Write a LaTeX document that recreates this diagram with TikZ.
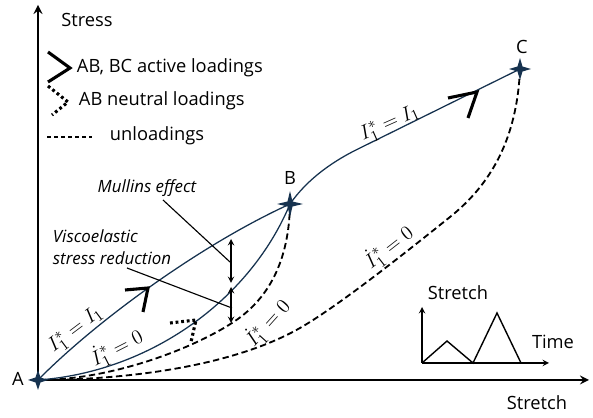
\documentclass[tikz,border=0pt]{standalone}
\usepackage{amsmath}
\usepackage{fontspec}
\setmainfont{Open Sans}
\usepackage{xcolor}
\usepackage{tikz}

\definecolor{curveblue}{RGB}{22,50,79}

\tikzset{
  axis/.style={line width=1.8pt,-stealth},
  loadcurve/.style={line width=0.9pt,draw=curveblue},
  unloadcurve/.style={line width=1.3pt,dash pattern=on 4.5pt off 2.5pt},
  chevron/.style={line width=2.2pt},
  neutralchev/.style={line width=2.2pt,dash pattern=on 2pt off 2pt},
  callout/.style={line width=0.8pt},
  txt/.style={font=\fontsize{13}{15}\selectfont},
  itxt/.style={font=\fontsize{12}{15.5}\selectfont\itshape},
  mathlbl/.style={font=\fontsize{15}{17}\selectfont,inner sep=1pt},
  starmark/.pic={\fill[curveblue] (0,-#1) -- (2.5,-2.5) -- (#1,0) -- (2.5,2.5) -- (0,#1)
      -- (-2.5,2.5) -- (-#1,0) -- (-2.5,-2.5) -- cycle;},
}

\begin{document}
\begin{tikzpicture}[x=0.025cm,y=-0.025cm]
        \useasboundingbox (0,0) rectangle (593,418);

        \coordinate (A) at (38,380);
        \coordinate (B) at (290,204);
        \coordinate (C) at (520,69);

        % axes
        \draw[axis] (38,382) -- (38,5) coordinate (ytip);
        \draw[axis] (37,380) -- (589,380) coordinate (xtip);
        \node[txt] (ylbl) at (87,20) {Stress};
        \node[txt] (xlbl) at (537,403) {Stretch};

        % legend
        \draw[chevron] (70,68) coordinate (lgA) ++(-22,-16) -- (lgA) -- ++(-22,14);
        \node[txt,anchor=west] (lgAtxt) at (72,68) {AB, BC active loadings};
        \draw[neutralchev] (68,102) coordinate (lgN) ++(-20,-16) -- (lgN) -- ++(-16,13);
        \node[txt,anchor=west] (lgNtxt) at (74,101) {AB neutral loadings};
        \draw[line width=1pt,dash pattern=on 3pt off 2pt] (47,137) coordinate (lgU) -- (92,137);
        \node[txt,anchor=west] (lgUtxt) at (105,136) {unloadings};

        % unloadings
        \coordinate (u1) at (450,217);
        \coordinate (u2) at (300,328);
        \coordinate (u3) at (232,323);
        \draw[unloadcurve] (C) .. controls (517,140) and (490,185) .. (u1)
            .. controls (410,249) and (340,305) .. (u2)
            .. controls (230,368) and (120,380) .. (A);
        \draw[unloadcurve] (B) .. controls (289,262) and (268,300) .. (u3)
            .. controls (190,350) and (110,380) .. (A);

        % loadings
        \coordinate (b1) at (360,148);
        \draw[loadcurve] (A) .. controls (95,322) and (200,245) .. (B);
        \draw[loadcurve] (A) .. controls (150,372) and (250,300) .. (B);
        \draw[loadcurve] (B) .. controls (308,178) and (335,160) .. (b1) -- (C);

        % direction marks
        \draw[chevron] (148,288) coordinate (chAB) ++(-23,2) -- (chAB) -- ++(-5,24);
        \draw[chevron] (477,92) coordinate (chBC) ++(-29,6) -- (chBC) -- ++(-9,26);
        \draw[neutralchev] (196,320) coordinate (chN) ++(-26,3) -- (chN) -- ++(-5,22);

        % points
        \pic at (A) {starmark=10};
        \pic at (B) {starmark=13};
        \pic at (C) {starmark=11};
        \node[txt] (lblA) at (18,379) {A};
        \node[txt] (lblB) at (290,178) {B};
        \node[txt] (lblC) at (522,47) {C};

        % curve labels
        \node[mathlbl,rotate=37] (eqAB) at (76,330) {$I_1^*=I_1$};
        \node[mathlbl,rotate=27] (dotAB) at (117,348) {$\dot{I}_1^*=0$};
        \node[mathlbl,rotate=48] (dotB) at (268,323) {$\dot{I}_1^*=0$};
        \node[mathlbl,rotate=38] (dotC) at (389,247) {$\dot{I}_1^*=0$};
        \node[mathlbl,rotate=24] (eqBC) at (390,124) {$I_1^*=I_1$};

        % stress drops
        \coordinate (m1) at (231,239);
        \coordinate (m2) at (231,285);
        \coordinate (m3) at (231,323);
        \draw[line width=1pt,stealth-stealth] (m1) -- ([yshift=0.05cm]m2);
        \draw[line width=1pt,stealth-stealth] ([yshift=-0.05cm]m2) -- (m3);

        % callouts
        \node[itxt] (mullins) at (147,188) {Mullins effect};
        \node[itxt,anchor=west,align=left] (visco) at (48,247) {Viscoelastic\\stress reduction};
        \coordinate (mfoot) at (163,200);
        \coordinate (mtip) at (230,262);
        \coordinate (vfoot) at (127,268);
        \coordinate (vtip) at (232,308);
        \draw[callout] (mfoot) -- (mtip);
        \draw[callout] (vfoot) -- (vtip);

        % stretch history
        \coordinate (O) at (422,363);
        \draw[line width=1pt,-stealth] (O) -- (422,307) coordinate (sy);
        \draw[line width=1pt,-stealth] (O) -- (549,363) coordinate (sx);
        \draw[line width=1pt] (O) -- (447,341) -- (473,363) -- (497,313) -- (521,363);
        \node[txt] (stl) at (458,293) {Stretch};
        \node[txt] (tml) at (553,342) {Time};
\end{tikzpicture}
\end{document}
